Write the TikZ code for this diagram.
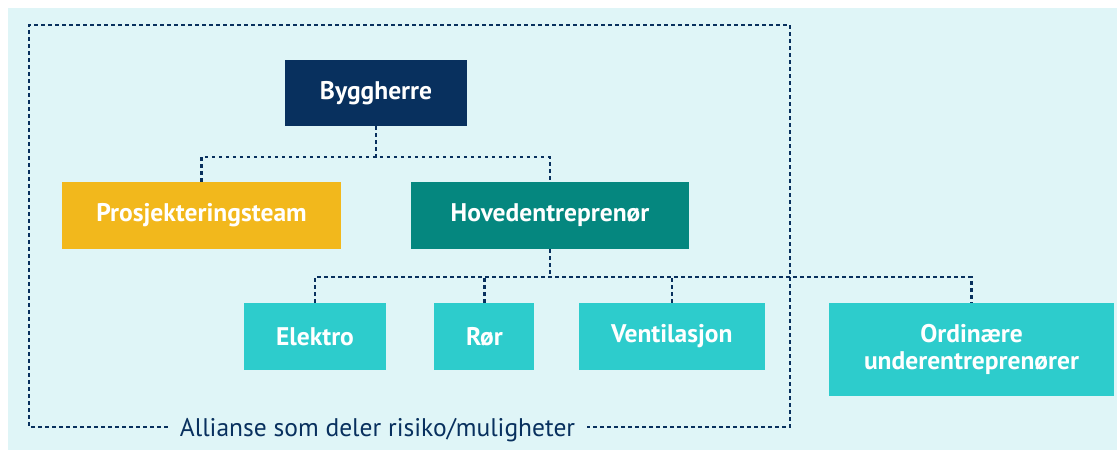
\documentclass[tikz,border=0pt]{standalone}
\usepackage{fontspec}
\setmainfont{PT Sans}
\usetikzlibrary{positioning}
\definecolor{bgcyan}{HTML}{DFF5F7}
\definecolor{navy}{HTML}{08305E}
\definecolor{gul}{HTML}{F2B81C}
\definecolor{hovedteal}{HTML}{05877F}
\definecolor{turkis}{HTML}{2DCCCC}

\begin{document}
\begin{tikzpicture}[x=1pt, y=-1pt,
	boks/.style={fill=#1, text=white, font=\fontsize{25.5}{27}\selectfont\bfseries,
		minimum height=67pt, inner sep=0pt, align=center},
	linje/.style={draw=navy, line width=2.2pt, dash pattern=on 3.5pt off 3.5pt}]
	\useasboundingbox (0,0) rectangle (1117,450);
	\fill[bgcyan] (8,8) rectangle (1117,450);
	
	\node[boks=navy, minimum width=182pt, minimum height=66pt] (bygg) at (376,93) {Byggherre};
	\node[boks=gul, minimum width=279pt] (prosj) at (201.5,215.5) {Prosjekteringsteam};
	\node[boks=hovedteal, minimum width=278pt] (hoved) at (550,215.5) {Hovedentreprenør};
	\node[boks=turkis, minimum width=142pt] (elektro) at (315,336.5) {Elektro};
	\node[boks=turkis, minimum width=100pt, right=48pt of elektro] (ror) {Rør};
	\node[boks=turkis, minimum width=186pt, right=44pt of ror] (vent) {Ventilasjon};
	\node[boks=turkis, minimum width=285pt, minimum height=93pt] (ordin) at (971.5,349.5) {Ordinære\\underentreprenører};
	
	\coordinate (j1) at ([yshift=-31pt]bygg.south);
	\draw[linje] (bygg.south) -- (j1);
	\draw[linje] (prosj.north) |- (j1) -| (hoved.north);
	\coordinate (j2) at ([yshift=-28pt]hoved.south);
	\draw[linje] (hoved.south) -- (j2);
	\draw[linje] (elektro.north) |- (j2) -| (ordin.north);
	\draw[linje] (ror.north) -- (ror.north |- j2);
	\draw[linje] (vent.north) -- (vent.north |- j2);
	
	\coordinate (fnw) at (29,25);
	\coordinate (fse) at (790,427);
	\node[text=navy, font=\fontsize{25.5}{28}\selectfont, inner xsep=12pt, anchor=base] (allianse) at (377.5,436) {Allianse som deler risiko/muligheter};
	\draw[linje] (allianse.west |- fse) -| (fnw) -| (fse) -- (allianse.east |- fse);
\end{tikzpicture}
\end{document}
